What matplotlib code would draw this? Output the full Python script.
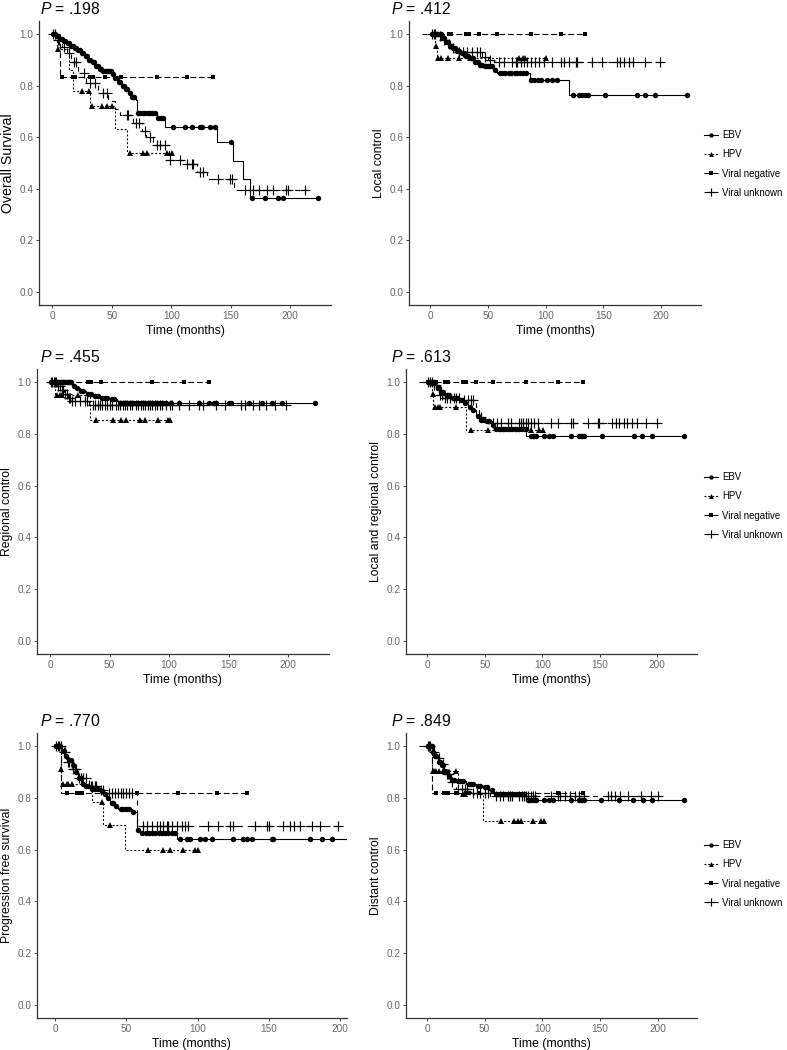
import matplotlib
matplotlib.use('Agg')
import matplotlib.pyplot as plt
import numpy as np

plt.rcParams['font.family'] = ['Liberation Sans', 'DejaVu Sans']
plt.rcParams['mathtext.fontset'] = 'custom'
plt.rcParams['mathtext.it'] = 'Liberation Sans:italic'
plt.rcParams['mathtext.rm'] = 'Liberation Sans'
plt.rcParams['lines.scale_dashes'] = False

W, H = 787, 1050
GROUPS = ['EBV', 'HPV', 'Viral negative', 'Viral unknown']
X_TICKS = [0, 50, 100, 150, 200]
Y_TICKS = [0.0, 0.2, 0.4, 0.6, 0.8, 1.0]

# ---- Overall survival (P = .198)
OS_T = {'EBV': [0, 3, 6, 9, 12, 15, 18, 21, 24, 27, 30, 33, 36, 39, 42, 50, 52, 55, 58, 61, 64, 66, 70, 71, 88, 95, 138, 151.5, 160.4, 165.9],
        'HPV': [0, 4, 14, 17, 32, 53, 63],
        'Viral negative': [0, 6.4],
        'Viral unknown': [0, 3, 8, 12, 16, 22, 28, 38, 47, 53, 57, 68, 75, 79, 85, 98, 110, 122, 130, 153]}
OS_S = {'EBV': [1.0, 0.99, 0.98, 0.972, 0.964, 0.955, 0.946, 0.937, 0.925, 0.913, 0.90, 0.89, 0.877, 0.865, 0.856, 0.845, 0.83, 0.815, 0.80, 0.785, 0.77, 0.755, 0.745, 0.695, 0.675, 0.64, 0.58, 0.508, 0.437, 0.364],
        'HPV': [1.0, 0.94, 0.86, 0.78, 0.72, 0.63, 0.54],
        'Viral negative': [1.0, 0.833],
        'Viral unknown': [1.0, 0.975, 0.95, 0.925, 0.89, 0.85, 0.81, 0.77, 0.74, 0.71, 0.685, 0.655, 0.625, 0.60, 0.57, 0.512, 0.495, 0.467, 0.437, 0.395]}
OS_C = {'EBV': [1, 2, 4, 5, 7, 8, 10, 11, 13, 14, 16, 17, 19, 20, 22, 23, 25, 26, 28, 29, 31, 32, 34, 35, 37, 38, 40, 41, 43, 44, 45, 46, 47, 48, 49, 51, 53, 54, 56, 57, 59, 60, 62, 63, 65, 67, 68, 69, 72, 74, 76, 78, 80, 82, 84, 86, 89, 91, 93, 101, 111.6, 117, 124, 125.5, 132.5, 137, 150, 168, 178.5, 189.7, 194, 223],
        'HPV': [4.5, 25, 30.7, 33.5, 42, 46, 50, 65.5, 76, 79.5, 96, 100.4],
        'Viral negative': [8.4, 17, 19.5, 31.5, 34, 44, 58, 88, 113.5, 135],
        'Viral unknown': [1, 2, 5, 6, 10, 14, 18, 20, 26.5, 32, 36, 43, 46, 62.8, 64, 70, 72.5, 78, 82, 88, 90.6, 95, 99, 107.4, 113, 117, 118.5, 124, 127, 139.5, 149, 150.6, 162, 168.8, 174, 180, 185.5, 196.7, 198, 212]}

# ---- Local control (P = .412)
LC_T = {'EBV': [0, 10, 13, 16, 19, 22, 26, 30, 34, 38, 42, 46, 55, 58, 86, 120],
        'HPV': [0, 4, 5.5],
        'Viral negative': [0],
        'Viral unknown': [-7, 6, 10, 14, 18, 22, 45, 50, 55]}
LC_S = {'EBV': [1.0, 0.985, 0.97, 0.955, 0.945, 0.935, 0.925, 0.915, 0.905, 0.89, 0.88, 0.875, 0.86, 0.848, 0.82, 0.765],
        'HPV': [1.0, 0.955, 0.905],
        'Viral negative': [1.0],
        'Viral unknown': [1.0, 0.99, 0.975, 0.96, 0.945, 0.93, 0.91, 0.90, 0.893]}
LC_C = {'EBV': [1, 2, 3, 4, 5, 6, 7, 8, 9, 11, 12, 14, 15, 17, 18, 20, 21, 23, 24, 25, 27, 28, 29, 31, 32, 33, 35, 36, 37, 39, 40, 41, 43, 44, 45, 47, 48, 50, 52, 53, 56, 60, 62, 65, 68, 70, 73, 75, 78, 80, 83, 87, 90, 93, 95.5, 101, 105.6, 110, 124, 128.6, 131.5, 134.4, 137, 151.6, 179, 186, 195, 222],
        'HPV': [4.5, 7, 9, 15, 25, 34, 77, 80, 82, 100],
        'Viral negative': [2, 3.5, 5, 6.3, 7.8, 9, 16.4, 17.8, 30.8, 32.2, 33.7, 42.3, 58, 86.9, 112.8, 134.4],
        'Viral unknown': [1, 3, 4, 8, 12, 16, 20, 25, 28, 32, 36, 40, 43, 47, 52, 59.6, 63.9, 71, 74, 75.4, 78.3, 81, 84, 87, 91, 94, 98.4, 105.6, 112.8, 115.7, 120, 125.8, 127.2, 140, 148.8, 161.7, 164.6, 167.5, 171.8, 176, 186, 199]}

# ---- Regional control (P = .455)
RC_T = {'EBV': [0, 19, 22, 25, 30, 36, 42, 50, 56, 58],
        'HPV': [0, 4, 33.4],
        'Viral negative': [0],
        'Viral unknown': [0, 6, 9, 12, 15, 18, 33]}
RC_S = {'EBV': [1.0, 0.985, 0.975, 0.965, 0.955, 0.945, 0.94, 0.935, 0.925, 0.92],
        'HPV': [1.0, 0.95, 0.855],
        'Viral negative': [1.0],
        'Viral unknown': [1.0, 0.985, 0.97, 0.955, 0.94, 0.925, 0.91]}
RC_C = {'EBV': [1, 2, 3, 4, 5, 6, 7, 8, 9, 10, 11, 12, 13, 14, 15, 16, 17, 18, 20, 23, 26, 28, 32, 34, 38, 40, 44, 46, 48, 52, 54, 60, 62, 64, 66, 68, 70, 72, 74, 76, 78, 80, 82, 84, 86, 88, 90, 92, 95, 97.5, 101.7, 108.6, 125.3, 133.7, 137.9, 139.3, 150.4, 151.8, 167.1, 178.3, 186.6, 194.4, 222.3],
        'HPV': [5.6, 8.4, 9.7, 23.7, 38.4, 52.9, 59.9, 64, 75.2, 79.4, 90.5, 98.9, 100.8],
        'Viral negative': [1.4, 2.8, 4.2, 5.6, 7, 8.4, 11, 13.9, 16.7, 18, 32, 33.4, 34.8, 43, 86, 112.8, 133.7],
        'Viral unknown': [1, 2, 3, 4, 5, 7, 8, 10, 11, 13, 14, 16, 17, 18.5, 21, 25, 29, 31, 36, 38, 40, 42, 44, 46, 48, 50, 52, 55, 57, 59, 61, 63, 65, 67, 69, 72, 74, 76, 78, 80, 82, 84, 86, 88, 90, 92, 94, 97, 101, 102.5, 108, 117, 125, 128, 139, 147, 160, 164, 170, 175, 181, 189, 198]}

# ---- Local and regional control (P = .613)
LRC_T = {'EBV': [0, 8, 11, 15, 21, 27, 31, 35, 39, 42, 45, 51, 56, 58, 86],
         'HPV': [0, 4.3, 5, 33.8],
         'Viral negative': [0],
         'Viral unknown': [-7, 5, 10, 14, 30, 42, 45, 50]}
LRC_S = {'EBV': [1.0, 0.975, 0.96, 0.95, 0.94, 0.93, 0.92, 0.905, 0.89, 0.87, 0.855, 0.85, 0.835, 0.82, 0.79],
         'HPV': [1.0, 0.955, 0.905, 0.815],
         'Viral negative': [1.0],
         'Viral unknown': [1.0, 0.99, 0.95, 0.94, 0.93, 0.905, 0.865, 0.84]}
LRC_C = {'EBV': [1, 2, 3, 4, 5, 6, 7, 9, 10, 12, 13, 14, 17, 18, 19, 22, 24, 26, 29, 33, 37, 40, 44, 47, 49, 53, 54, 57, 60, 62, 64, 66, 68, 70, 72, 74, 76, 78, 80, 82, 84, 85.8, 90.2, 91.6, 93, 94.5, 101.7, 106, 109, 124.9, 132, 133.4, 134.8, 136.3, 152.3, 179.8, 187, 195, 223],
         'HPV': [4.6, 6.4, 9.2, 10.7, 25, 38, 52.6, 90.2, 97.4, 100.3],
         'Viral negative': [0.6, 2, 3.5, 4.9, 6.4, 7.8, 15, 16.5, 17.9, 30.9, 32.4, 33.8, 42.5, 57, 85.8, 113.3, 135],
         'Viral unknown': [0.5, 2, 4, 6, 8, 11, 13, 15, 17, 20, 23, 25, 28, 32, 35, 38, 40, 47, 57, 61, 64, 70, 72.8, 80, 81.5, 83, 85.8, 87.3, 90.2, 93, 96, 107.5, 113.3, 124.9, 126.3, 139.3, 148, 149.4, 161, 163.9, 166.8, 171, 174, 178.3, 182.7, 189.9, 200]}

# ---- Progression free survival (P = .770)
PFS_T = {'EBV': [0, 4.7, 7, 9.4, 11.7, 14, 16.4, 18.7, 21, 24.6, 31.6, 34, 36.3, 38.6, 42, 44.4, 53.8, 57.3, 59.6, 85.4],
         'HPV': [0, 4, 4.5, 25.7, 34, 49],
         'Viral negative': [0, 4],
         'Viral unknown': [0, 5, 8, 12, 16, 24, 30, 36, 57.5]}
PFS_S = {'EBV': [1.0, 0.98, 0.96, 0.945, 0.925, 0.90, 0.875, 0.855, 0.845, 0.835, 0.825, 0.815, 0.80, 0.78, 0.77, 0.755, 0.745, 0.675, 0.665, 0.64],
         'HPV': [1.0, 0.91, 0.855, 0.785, 0.695, 0.597],
         'Viral negative': [1.0, 0.818],
         'Viral unknown': [1.0, 0.975, 0.94, 0.91, 0.875, 0.845, 0.83, 0.82, 0.69]}
PFS_C = {'EBV': [0.5, 1, 1.5, 2, 2.5, 3, 3.5, 5.5, 6, 8, 10, 11, 13, 15, 17, 18, 20, 22, 23, 26, 28, 30, 33, 35, 37, 40, 41, 43, 46, 48, 50, 52, 55, 58.5, 61, 63.7, 66, 68.2, 70.5, 73, 75, 77, 79.5, 82, 84, 87.7, 92.4, 94.7, 101.8, 105.3, 110, 125.1, 132, 134.5, 138, 152, 153.2, 179, 187.1, 194.2, 223],
         'HPV': [4.2, 5.8, 8.2, 9.4, 11.7, 32.7, 38.6, 65.5, 76, 80.7, 90, 98.2, 100.6],
         'Viral negative': [8.2, 15.2, 16.4, 17.5, 18.7, 57.3, 86.5, 113.5, 134.5],
         'Viral unknown': [1, 2, 3, 4, 6, 7, 9, 10, 13, 14, 15, 17, 18, 20, 22, 25, 26, 28, 29, 32, 34, 38, 40, 42, 44, 46, 48, 50, 52, 54, 62, 64.3, 67.8, 71.3, 73.7, 76, 78.4, 79.5, 81.9, 85.4, 88.9, 91.2, 93.6, 107.6, 114.6, 122.8, 125.1, 140.4, 148.6, 149.8, 160.2, 164.9, 167.3, 172, 180.1, 186, 198.8]}

# ---- Distant control (P = .849)
DC_T = {'EBV': [0, 4.9, 6.4, 9.2, 12, 15, 17.9, 20.8, 25, 33.8, 42.5, 48.3, 54, 58.4, 85.8],
        'HPV': [0, 4, 27, 49],
        'Viral negative': [0, 4.3],
        'Viral unknown': [-7, 5, 8, 12, 16, 20, 25, 38, 55]}
DC_S = {'EBV': [1.0, 0.975, 0.96, 0.94, 0.925, 0.905, 0.885, 0.87, 0.865, 0.855, 0.845, 0.84, 0.83, 0.815, 0.79],
        'HPV': [1.0, 0.905, 0.815, 0.71],
        'Viral negative': [1.0, 0.818],
        'Viral unknown': [1.0, 0.975, 0.955, 0.93, 0.89, 0.86, 0.835, 0.82, 0.805]}
DC_C = {'EBV': [0.5, 1, 1.5, 2, 2.5, 3, 3.5, 4, 5.5, 7, 8, 10, 11, 13, 14, 16, 19, 22, 23, 27, 29, 31, 36, 38, 40, 44, 46, 50, 52, 56, 60, 62, 64, 66, 68, 70, 72, 74, 76, 78, 80, 82, 84, 87.3, 88.7, 90.2, 93, 94.5, 101.7, 106, 109, 124.9, 132, 133.4, 134.8, 136.3, 150.8, 166.8, 178.3, 187, 195, 223],
        'HPV': [4.9, 6.4, 7.8, 10.7, 13.6, 25, 31, 33, 64.2, 75.7, 78.6, 81.5, 91.6, 98.8, 101.7],
        'Viral negative': [7.8, 15, 16.4, 17.9, 25, 33.8, 35.3, 36.7, 45, 113.3, 135],
        'Viral unknown': [0.5, 2, 3, 6, 10, 14, 17, 18, 19, 22, 27, 30, 33, 35, 40, 43, 46, 50, 53, 60, 63, 66, 70, 72, 74, 80, 82, 84, 86, 88, 90, 92, 94, 108, 113.5, 115, 119.5, 124, 128.6, 131.5, 136, 157, 160, 163, 167, 174, 186, 194, 200]}

STYLE = {
    'EBV': dict(ls='-', marker='o', ms=3.9, mew=0),
    'HPV': dict(ls=(0, (1.4, 1.4)), marker='^', ms=4.4, mew=0),
    'Viral negative': dict(ls=(0, (4.2, 2.0)), marker='s', ms=3.5, mew=0),
    'Viral unknown': dict(ls=(0, (3.5, 3.5)), marker='+', ms=6.5, mew=0.85),
}

# panel: data, px box (x0, x1, y0, y1), xlim, ylabel, ylabel size, P, legend position (x px, y centre px)
PANELS = [
    (OS_T, OS_S, OS_C, (39, 331, 21, 305), (-11.15, 234.15), 'Overall Survival', 10.2, '.198', None),
    (LC_T, LC_S, LC_C, (409, 701, 21, 305), (-18.5, 234.5), 'Local control', 8.8, '.412', (704, 164)),
    (RC_T, RC_S, RC_C, (36.7, 329, 369, 654), (-11.15, 234.15), 'Regional control', 8.8, '.455', None),
    (LRC_T, LRC_S, LRC_C, (406, 697, 369, 654), (-18.5, 234.5), 'Local and regional control', 8.8, '.613', (704, 506)),
    (PFS_T, PFS_S, PFS_C, (36.7, 347, 733, 1018), (-12.8, 204.8), 'Progression free survival', 8.8, '.770', None),
    (DC_T, DC_S, DC_C, (405.7, 697.3, 733, 1018), (-18.5, 234.5), 'Distant control', 8.8, '.849', (704, 874)),
]

fig = plt.figure(figsize=(W / 100, H / 100), dpi=100)

for T, S, C, (x0, x1, y0, y1), xlim, ylab, ysize, pval, leg in PANELS:
    ax = fig.add_axes([x0 / W, 1 - y1 / H, (x1 - x0) / W, (y1 - y0) / H])
    handles = []
    for g in GROUPS:
        st = STYLE[g]
        t = np.asarray(T[g], float); s = np.asarray(S[g], float); c = np.asarray(C[g], float)
        end = max(t.max(), c.max())
        ax.step(np.append(t, end), np.append(s, s[-1]), where='post', color='black', lw=0.8, linestyle=st['ls'])
        idx = np.searchsorted(t, c, side='right') - 1
        ax.plot(c, s[idx], linestyle='none', marker=st['marker'], color='black', ms=st['ms'], mew=st['mew'])
        h, = ax.plot([], [], color='black', lw=0.8, linestyle=st['ls'], marker=st['marker'],
                     ms=st['ms'] * 0.8, mew=st['mew'])
        handles.append(h)
    ax.set_xlim(*xlim)
    ax.set_ylim(-0.05, 1.05)
    ax.set_xticks(X_TICKS)
    ax.set_yticks(Y_TICKS)
    ax.set_yticklabels([f'{v:.1f}' for v in Y_TICKS])
    for sp in ['top', 'right']:
        ax.spines[sp].set_visible(False)
    for sp in ['left', 'bottom']:
        ax.spines[sp].set_color('#333333'); ax.spines[sp].set_linewidth(0.9)
    ax.tick_params(length=2.5, width=0.7, color='#444444', labelsize=7.2, labelcolor='#666666', pad=1.5)
    ax.set_xlabel('Time (months)', fontsize=8.8, labelpad=3)
    ax.set_ylabel(ylab, fontsize=ysize, labelpad=3)
    tx = 40 if x0 < 100 else 391
    fig.text(tx / W, 1 - (y0 - 7) / H, f'$P$ = {pval}', fontsize=11.3, va='baseline', ha='left')
    if leg:
        ax.legend(handles, GROUPS, loc='center left', bbox_to_anchor=(leg[0] / W, 1 - leg[1] / H),
                  bbox_transform=fig.transFigure, frameon=False, fontsize=6.9, handlelength=1.45,
                  handletextpad=0.45, labelspacing=0.95, borderpad=0, borderaxespad=0)

fig.savefig('out.png', dpi=100)
